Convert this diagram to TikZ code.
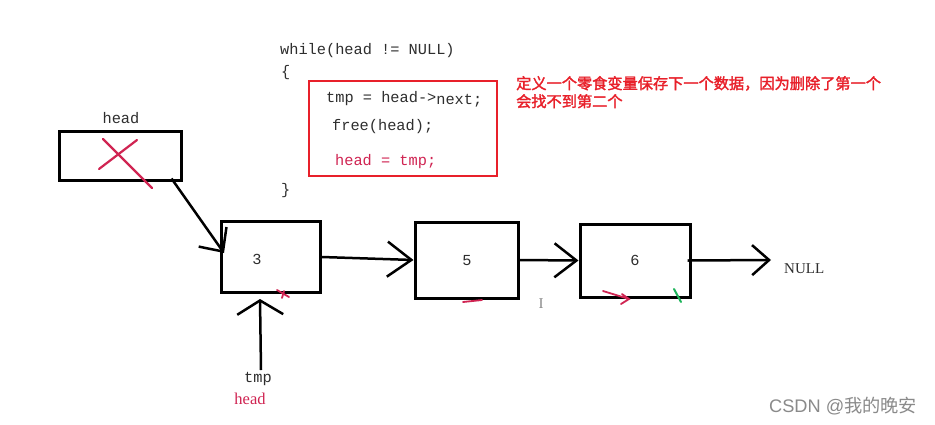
\documentclass[tikz,border=0pt]{standalone}
\usepackage{fontspec}
\setmonofont{Liberation Mono}
\newfontfamily\cjkb[FakeBold=2]{Noto Sans CJK SC}
\newfontfamily\cjk{Noto Sans CJK SC}
\newfontfamily\arialf{Liberation Sans}
\newfontfamily\serf{Liberation Serif}
\usetikzlibrary{arrows.meta,calc}
\definecolor{codegray}{HTML}{2E2E2E}
\definecolor{boxred}{HTML}{E8202A}
\definecolor{crim}{HTML}{D02452}
\definecolor{tickgreen}{HTML}{1DB45A}
\definecolor{wmgray}{HTML}{8A8A8A}
\tikzset{
  code/.style={anchor=base west,inner sep=0pt,text=codegray,font=\ttfamily\fontsize{15.3}{18}\selectfont},
  lbl/.style={anchor=base,inner sep=0pt,text=codegray,font=\ttfamily\fontsize{15.3}{18}\selectfont},
  cell/.style={draw=black,line width=3pt,inner sep=0pt},
  link/.style={line width=2.5pt,black},
  redmark/.style={line width=2.2pt,crim,line cap=round},
  note/.style={anchor=base west,inner sep=0pt,text=boxred,font=\cjkb\fontsize{15.2}{18}\selectfont},
}
\begin{document}
\begin{tikzpicture}[x=1pt,y=-1pt]
\useasboundingbox[fill=white] (0,0) rectangle (935,424);
% code
\node[code] (w) at (280,54) {while(head != NULL)};
\node[code] (ob) at (281,76) {\{};
\draw[boxred,line width=1.8pt] (309,81) rectangle (497,176);
\node[code] (l1) at (326,102) {tmp = head->\raisebox{-2pt}{next;}};
\node[code] (l2) at (332,130) {free(head);};
\node[code,text=crim] (l3) at (335,165) {head = tmp;};
\node[code] (cb) at (281,194) {\}};
% annotation
\node[note] (n1) at (516,89) {定义一个零食变量保存下一个数据，因为删除了第一个};
\node[note] (n2) at (516,107) {会找不到第二个};
% boxes
\node[cell,minimum width=122pt,minimum height=49pt] (hb) at (120,155.5) {};
\node[lbl] (hl) at (121,123) {head};
\node[cell,minimum width=99pt,minimum height=71pt] (n3) at (271,257) {};
\node[cell,minimum width=103pt,minimum height=76pt] (n5) at (466.5,260) {};
\node[cell,minimum width=110pt,minimum height=73pt] (n6) at (635,260.5) {};
\node[lbl] (v3) at (257,264) {3};
\node[lbl] (v5) at (467,265) {5};
\node[lbl] (v6) at (635,265) {6};
% red X
\draw[redmark] (99,169) -- (137,140);
\draw[redmark] (103,139) -- (152,188);
% connectors
\coordinate (hstart) at ($(hb.south east)+(-11,-3)$);
\draw[link,-{Straight Barb[length=18pt,width=34pt]}] (hstart) -- ($(n3.north west)+(4,33)$);
\draw[link,-{Straight Barb[length=24pt,width=35pt]}] (n3.east) -- (n5.west);
\draw[link,-{Straight Barb[length=22pt,width=34pt]}] (n5.east) -- (n6.west);
\coordinate (nulltip) at (771,260);
\draw[link,-{Straight Barb[length=17pt,width=30pt]}] ($(n6.east)+(-4,0)$) -- (nulltip);
\node[anchor=base west,inner sep=0pt,text=codegray,font=\serf\fontsize{15}{18}\selectfont] (nl) at (784,273) {NULL};
\coordinate (tmpbot) at (261,370);
\draw[link,-{Straight Barb[length=14pt,width=46pt]}] (tmpbot) -- ($(n3.south west)+(40,5)$);
\node[lbl] (tl) at (258,382) {tmp};
\node[lbl,text=crim,font=\serf\fontsize{16.5}{18}\selectfont] (hl2) at (250,404) {head};
% small marks
\draw[redmark,line width=1.8pt] (277,290) -- (289,297) (282,298) -- (284,291);
\draw[redmark,line width=1.8pt] (463,302) -- (482,300);
\draw[redmark,line width=1.8pt] (603,291) -- (629,299) (621,304) -- (629,299) -- (622,294);
\draw[tickgreen,line width=2pt,line cap=round] (674,289) -- (681,302);
\node[anchor=base,inner sep=0pt,text=wmgray,font=\serf\fontsize{15}{18}\selectfont] (cur) at (541,308) {I};
% watermark
\node[anchor=base west,inner sep=0pt,text=wmgray,font=\arialf\fontsize{18.2}{18}\selectfont] (wm) at (769,412) {CSDN @{\cjk 我的晚安}};
\end{tikzpicture}
\end{document}
